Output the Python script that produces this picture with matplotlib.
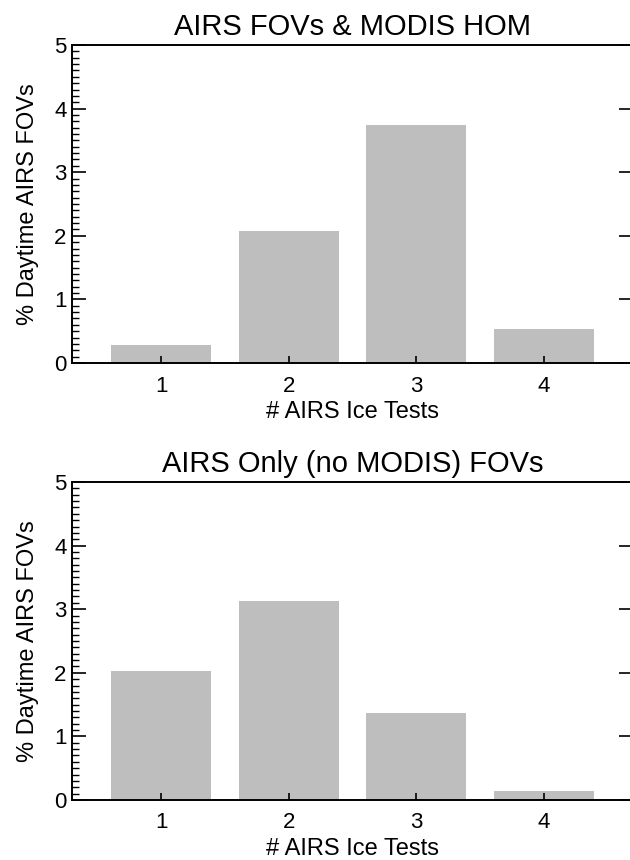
import matplotlib
matplotlib.use("Agg")
import matplotlib.pyplot as plt
from matplotlib.ticker import MultipleLocator

plt.rcParams['font.family'] = ['Liberation Sans', 'DejaVu Sans']

categories = [1, 2, 3, 4]
hom_values = [0.28, 2.07, 3.74, 0.54]
only_values = [2.03, 3.13, 1.37, 0.14]
titles = ["AIRS FOVs & MODIS HOM", "AIRS Only (no MODIS) FOVs"]
xlabel = "# AIRS Ice Tests"
ylabel = "% Daytime AIRS FOVs"
yticks = [0, 1, 2, 3, 4, 5]

W, H = 630, 860
fig = plt.figure(figsize=(W / 100, H / 100), dpi=100)

# axes boxes in pixels: left, top, right, bottom
boxes = [(72, 45, 633, 363), (72, 482, 633, 800)]
series = [hom_values, only_values]

for (l, t, r, b), vals, title in zip(boxes, series, titles):
    ax = fig.add_axes([l / W, 1 - b / H, (r - l) / W, (b - t) / H])
    ax.bar(categories, vals, width=0.786, color='#bebebe', edgecolor='none', zorder=1)
    ax.set_xlim(0.3, 4.7)
    ax.set_ylim(0, 5)
    ax.set_xticks(categories)
    ax.set_yticks(yticks)
    ax.yaxis.set_minor_locator(MultipleLocator(0.1))
    for s in ax.spines.values():
        s.set_linewidth(1.4)
        s.set_color('black')
        s.set_zorder(3)
    ax.tick_params(axis='y', which='major', direction='in', length=10, width=1.2,
                   labelsize=16, pad=4, right=True)
    ax.tick_params(axis='y', which='minor', direction='in', length=5, width=1.0,
                   left=True, right=False)
    ax.tick_params(axis='x', which='major', direction='in', length=5, width=1.2,
                   labelsize=16, pad=9, top=False)
    ax.set_xlabel(xlabel, fontsize=17, labelpad=3)
    ax.set_ylabel(ylabel, fontsize=17, labelpad=11)
    ax.set_title(title, fontsize=21, pad=7)

fig.savefig("out.png", dpi=100)
